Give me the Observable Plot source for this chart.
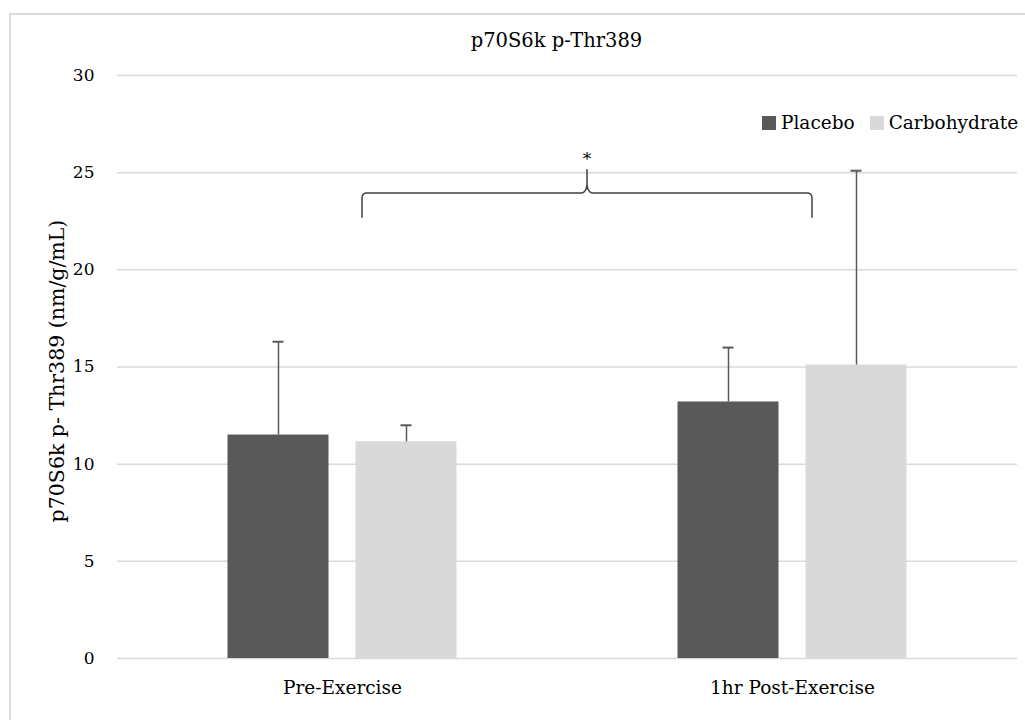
<!DOCTYPE html>
<html><head><meta charset="utf-8">
<script src="https://cdn.jsdelivr.net/npm/d3@7"></script>
<script src="https://cdn.jsdelivr.net/npm/@observablehq/plot@0.6"></script>
<style>
body{margin:0;background:#fff;}
#wrap{position:relative;width:1025px;height:720px;overflow:hidden;}
#border{position:absolute;left:9px;top:13px;width:1100px;height:800px;border-top:2px solid #d9d9d9;border-left:2px solid #d9d9d9;}
#chart{position:absolute;left:0;top:0;}
#legend{position:absolute;left:762px;top:112px;width:330px;}
#legend div{font-family:"DejaVu Serif" !important;font-size:18.5px !important;color:#000 !important;min-height:0 !important;margin:0 !important;line-height:22px;flex-wrap:nowrap !important;white-space:nowrap;}
#legend span{margin-right:15px !important;}
#legend svg{margin-right:5px !important;}
</style></head><body>
<div id="wrap"><div id="border"></div><div id="chart"></div><div id="legend"></div></div>
<script>
const groups = ["Pre-Exercise", "1hr Post-Exercise"];
const series = ["Placebo", "Carbohydrate"];
const placeboMean = [11.5, 13.2];
const carbMean = [11.15, 15.1];
const placeboSD = [4.8, 2.8];
const carbSD = [0.85, 10.0];
const yTicks = [0, 5, 10, 15, 20, 25, 30];
const titleText = "p70S6k p-Thr389";
const yLabel = "p70S6k p- Thr389 (nm/g/mL)";
const sigLabel = "*";
const braceLevel = 23.95, braceEnd = 22.7, braceTop = 25.15, sigY = 25.65;
const colors = ["#595959", "#d9d9d9"];

// layout
const W = 1025, H = 720, mL = 117, mR = 8, mT = 75, mB = 62;
const pxX = 2 / (W - mL - mR);       // data units per px in x
const pxY = 30 / (H - mT - mB);      // data units per px in y
const halfGap = 13.5 * pxX, barW = 101 * pxX, capHalf = 5.5 * pxX;

const rows = [];
groups.forEach((g, gi) => {
  series.forEach((s, si) => {
    const mean = si === 0 ? placeboMean[gi] : carbMean[gi];
    const sd = si === 0 ? placeboSD[gi] : carbSD[gi];
    const x1 = si === 0 ? gi - halfGap - barW : gi + halfGap;
    const x2 = x1 + barW;
    rows.push({group: g, series: s, mean, sd, x1, x2, xc: (x1 + x2) / 2, top: mean + sd});
  });
});

// brace from Pre to Post (offset right by 19.5px)
const off = 19.5 * pxX;
const xa = 0 + off, xb = 1 + off, xm = (xa + xb) / 2;
const pts = [];
function arc(cx, cy, rx, ry, a0, a1) {
  for (let k = 0; k <= 10; k++) {
    const a = a0 + (a1 - a0) * k / 10;
    pts.push([cx + rx * Math.cos(a), cy + ry * Math.sin(a)]);
  }
}
const crx = 4 * pxX, cry = 5 * pxY, mrx = 6 * pxX, mry = 9 * pxY;
pts.push([xa, braceEnd]);
arc(xa + crx, braceLevel - cry, crx, cry, Math.PI, Math.PI / 2);
arc(xm - mrx, braceLevel + mry, mrx, mry, -Math.PI / 2, 0);
pts.push([xm, braceTop]);
arc(xm + mrx, braceLevel + mry, mrx, mry, Math.PI, 3 * Math.PI / 2);
arc(xb - crx, braceLevel - cry, crx, cry, Math.PI / 2, 0);
pts.push([xb, braceEnd]);

const plot = Plot.plot({
  width: W, height: H,
  marginLeft: mL, marginRight: mR, marginTop: mT, marginBottom: mB,
  style: {fontFamily: "DejaVu Serif", fontSize: "17px", color: "#000", background: "transparent", overflow: "visible"},
  x: {domain: [-0.5, 1.5], axis: null},
  y: {domain: [0, 30], axis: null},
  color: {domain: series, range: colors},
  marks: [
    Plot.gridY(yTicks, {stroke: "#d9d9d9", strokeOpacity: 1, strokeWidth: 1.5}),
    Plot.axisY(yTicks, {tickSize: 0, tickPadding: 23, fontSize: 17, label: null}),
    Plot.axisX([0, 1], {tickSize: 0, tickPadding: 22, tickFormat: i => groups[i], fontSize: 18.5, label: null}),
    Plot.rectY(rows, {x1: "x1", x2: "x2", y1: 0, y2: "mean", fill: "series"}),
    Plot.ruleX(rows, {x: "xc", y1: "mean", y2: "top", stroke: "#595959", strokeWidth: 1.5}),
    Plot.ruleY(rows, {y: "top", x1: d => d.xc - capHalf, x2: d => d.xc + capHalf, stroke: "#595959", strokeWidth: 2}),
    Plot.line(pts, {x: d => d[0], y: d => d[1], stroke: "#404040", strokeWidth: 1.5}),
    Plot.text([sigLabel], {x: xm, y: sigY, fontSize: 17, fill: "#000", lineAnchor: "middle"}),
    Plot.text([titleText], {frameAnchor: "top", dx: -11, dy: -35, fontSize: 19.5, lineAnchor: "middle", fill: "#000"}),
    Plot.text([yLabel], {frameAnchor: "left", dx: -60, dy: 4, rotate: -90, textAnchor: "middle", fontSize: 20.5, lineAnchor: "middle", fill: "#000"})
  ]
});
document.getElementById("chart").appendChild(plot);
const leg = plot.legend("color", {swatchSize: 14});
document.getElementById("legend").appendChild(leg);
</script>
</body></html>
